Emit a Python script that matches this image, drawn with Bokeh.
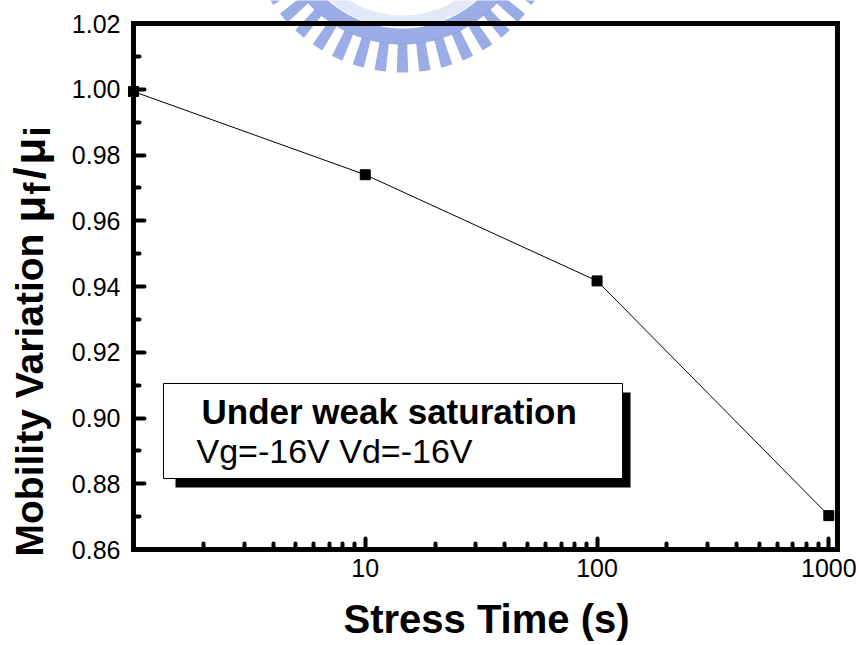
import numpy as np
from bokeh.plotting import figure
from bokeh.models import (FixedTicker, PrintfTickFormatter, Label, BoxAnnotation,
                          LogAxis, LinearAxis)
from bokeh.embed import file_html
from bokeh.resources import INLINE

# Mobility degradation under gate/drain bias stress
stress_time = [1, 10, 100, 1000]                      # s
mobility_ratio = [0.9993, 0.974, 0.9417, 0.8703]      # mu_f / mu_i

x_major = [10, 100, 1000]
x_minor = [2, 3, 4, 5, 6, 7, 8, 9,
           20, 30, 40, 50, 60, 70, 80, 90,
           200, 300, 400, 500, 600, 700, 800, 900]
y_major = [0.86, 0.88, 0.90, 0.92, 0.94, 0.96, 0.98, 1.00, 1.02]
y_minor = [0.87, 0.89, 0.91, 0.93, 0.95, 0.97, 0.99, 1.01]

# extent of the boxed axes
X_MIN, X_MAX = 1, 1090
Y_MIN, Y_MAX = 0.86, 1.02

# canvas and where the boxed axes sit on it (pixels)
W, H = 859, 645
BOX_L, BOX_R, BOX_T, BOX_B = 133, 837, 23, 549
FONT = "Liberation Sans"

DEC_PX = (BOX_R - BOX_L) / (np.log10(X_MAX) - np.log10(X_MIN))
Y_PX = (BOX_B - BOX_T) / (Y_MAX - Y_MIN)


def canvas_to_data(px, py):
    """Convert canvas pixel positions into data coordinates."""
    px = np.asarray(px, dtype=float)
    py = np.asarray(py, dtype=float)
    lx = np.log10(X_MIN) + (px - BOX_L) / DEC_PX
    y = Y_MAX - (py - BOX_T) / Y_PX
    return 10 ** lx, y


x_start, y_top = canvas_to_data(0, 0)
x_end, y_bottom = canvas_to_data(W, H)

# the plotting frame covers the whole canvas; the axes are pinned in place
p = figure(width=W, height=H, x_axis_type="log",
           x_range=(float(x_start), float(x_end)),
           y_range=(float(y_bottom), float(y_top)),
           output_backend="svg", toolbar_location=None,
           min_border=0, min_border_left=0, min_border_right=0,
           min_border_top=0, min_border_bottom=0,
           background_fill_color="white", border_fill_color="white")
p.grid.visible = False
p.outline_line_color = None

# faint seal watermark behind the top of the chart
SEAL_CX, SEAL_CY, SEAL_R = 402, -85, 157
SEAL_BLUE = "#8a9de3"


def ring(r_in, r_out, a0, a1, n=90):
    t = np.radians(np.linspace(a0, a1, n))
    px = np.concatenate([SEAL_CX + r_out * np.cos(t), SEAL_CX + r_in * np.cos(t[::-1])])
    py = np.concatenate([SEAL_CY + r_out * np.sin(t), SEAL_CY + r_in * np.sin(t[::-1])])
    return canvas_to_data(px, py)


band_x, band_y = ring(SEAL_R - 57, SEAL_R - 45, 20, 160)
p.patch(band_x, band_y, fill_color="#e2e8f8", line_color=None, level="underlay")
rim_x, rim_y = ring(SEAL_R - 44, SEAL_R - 28, 20, 160)
p.patch(rim_x, rim_y, fill_color=SEAL_BLUE, fill_alpha=0.85, line_color=None,
        level="underlay")
teeth_xs, teeth_ys = [], []
for k in range(-8, 9):
    a = 90 + 8.2 * k
    tx, ty = ring(SEAL_R - 29, SEAL_R, a - 2.1, a + 2.1, n=6)
    teeth_xs.append(tx.tolist())
    teeth_ys.append(ty.tolist())
p.patches(teeth_xs, teeth_ys, fill_color=SEAL_BLUE, fill_alpha=0.85,
          line_color=None, level="underlay")

xax = p.xaxis[0]
yax = p.yaxis[0]
xax.fixed_location = Y_MIN
xax.bounds = (X_MIN, X_MAX)
yax.fixed_location = X_MIN
yax.bounds = (Y_MIN, Y_MAX)

for ax in (xax, yax):
    ax.axis_line_width = 5
    ax.axis_line_color = "black"
    ax.axis_line_cap = "square"
    ax.major_tick_in = 11
    ax.major_tick_out = 0
    ax.minor_tick_in = 6
    ax.minor_tick_out = 0
    ax.major_tick_line_width = 4
    ax.minor_tick_line_width = 4
    ax.major_tick_line_cap = "round"
    ax.minor_tick_line_cap = "round"
    ax.major_label_text_font = FONT
    ax.major_label_text_font_size = "25px"
    ax.major_label_text_color = "black"

xax.ticker = FixedTicker(ticks=x_major, minor_ticks=x_minor)
xax.formatter = PrintfTickFormatter(format="%d")
xax.major_label_standoff = 9

yax.ticker = FixedTicker(ticks=y_major, minor_ticks=y_minor)
yax.formatter = PrintfTickFormatter(format="%.2f")
yax.major_label_standoff = 13

# top and right edges of the box
top_edge = LogAxis(fixed_location=Y_MAX, bounds=(X_MIN, X_MAX),
                   ticker=FixedTicker(ticks=[], minor_ticks=[]),
                   axis_line_width=5, axis_line_cap="square")
right_edge = LinearAxis(fixed_location=X_MAX, bounds=(Y_MIN, Y_MAX),
                        ticker=FixedTicker(ticks=[], minor_ticks=[]),
                        axis_line_width=5, axis_line_cap="square")
p.add_layout(top_edge, "above")
p.add_layout(right_edge, "right")

# data
p.line(stress_time, mobility_ratio, line_color="black", line_width=1)
p.scatter(stress_time, mobility_ratio, marker="square", size=10,
          fill_color="black", line_color="black")

# condition box with drop shadow
sx0, sy0 = canvas_to_data(175, 392)
sx1, sy1 = canvas_to_data(630, 487)
p.add_layout(BoxAnnotation(left=float(sx0), right=float(sx1),
                           top=float(sy0), bottom=float(sy1),
                           fill_color="black", fill_alpha=1.0, line_alpha=0))
bx0, by0 = canvas_to_data(163, 383)
bx1, by1 = canvas_to_data(622, 478)
p.add_layout(BoxAnnotation(left=float(bx0), right=float(bx1),
                           top=float(by0), bottom=float(by1),
                           fill_color="white", fill_alpha=1.0,
                           line_color="black", line_alpha=1.0, line_width=1))

tx, ty = canvas_to_data(201, 411)
p.add_layout(Label(x=float(tx), y=float(ty), text="Under weak saturation",
                   text_font=FONT, text_font_style="bold",
                   text_font_size="35px", text_color="black",
                   text_align="left", text_baseline="middle"))
tx, ty = canvas_to_data(196, 450)
p.add_layout(Label(x=float(tx), y=float(ty), text="Vg=-16V Vd=-16V",
                   text_font=FONT, text_font_size="34px", text_color="black",
                   text_align="left", text_baseline="middle"))

# horizontal axis title
tx, ty = canvas_to_data(486, 618)
p.add_layout(Label(x=float(tx), y=float(ty), text="Stress Time (s)",
                   text_font=FONT, text_font_style="bold",
                   text_font_size="40px", text_color="black",
                   text_align="center", text_baseline="middle"))

# vertical axis title with subscripts, built from rotated pieces
title_parts = [
    # text, size (px), shift across the line (px), start along the line (px)
    ("Mobility Variation", 39, 0, 556),
    ("\u03bc", 44, 0, 222),
    ("f", 36, 8, 194),
    ("/", 44, 0, 179),
    ("\u03bc", 44, 0, 164),
    ("i", 36, 8, 136),
]
col_x = 29
for text, size, shift, start in title_parts:
    lx, ly = canvas_to_data(col_x + shift, start)
    p.add_layout(Label(x=float(lx), y=float(ly), text=text, angle=np.pi / 2,
                       text_font=FONT, text_font_style="bold",
                       text_font_size=f"{size}px", text_color="black",
                       text_align="left", text_baseline="middle"))

open("out.html", "w").write(file_html(p, INLINE))
